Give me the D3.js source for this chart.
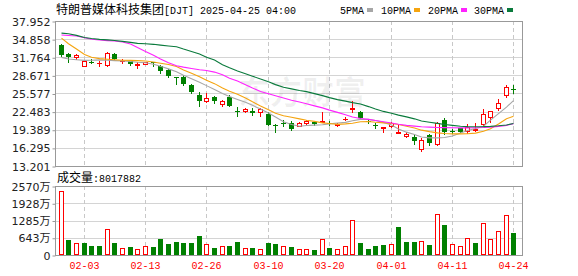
<!DOCTYPE html>
<html lang="zh">
<head>
<meta charset="utf-8"/>
<style>
  body { margin: 0; background: #fff; }
  svg text { font-family: "DejaVu Sans", "Noto Sans CJK SC", sans-serif; }
</style>
</head>
<body>
<svg id="container" width="578" height="276"></svg>

<script src="https://cdn.jsdelivr.net/npm/d3@7"></script>
<script>
// trading days shown (Jan 29 - Apr 24)
let dates = ["01-29","01-30","01-31","02-03","02-04","02-05","02-06","02-07","02-10","02-11",
             "02-12","02-13","02-14","02-18","02-19","02-20","02-21","02-24","02-25","02-26",
             "02-27","02-28","03-03","03-04","03-05","03-06","03-07","03-10","03-11","03-12",
             "03-13","03-14","03-17","03-18","03-19","03-20","03-21","03-24","03-25","03-26",
             "03-27","03-28","03-31","04-01","04-02","04-03","04-04","04-07","04-08","04-09",
             "04-10","04-11","04-14","04-15","04-16","04-17","04-21","04-22","04-23","04-24"]

let opens  = [33.90,32.27,31.82,30.30,30.90,30.73,30.47,32.38,31.12,31.15,
              30.50,30.64,30.92,30.24,29.51,28.40,28.33,27.04,25.30,24.23,
              25.01,23.72,25.01,22.66,22.66,22.60,22.43,22.03,20.12,20.60,
              20.46,20.07,20.52,20.69,20.75,20.60,20.18,21.20,23.00,22.43,
              20.90,20.18,19.62,19.95,18.77,18.32,18.10,16.14,18.43,16.97,
              20.97,19.18,19.61,19.10,19.40,20.42,21.63,23.10,25.40,26.35]
let highs  = [34.07,32.50,32.27,31.09,31.48,31.09,32.72,32.55,31.48,31.31,
              30.92,31.00,30.95,30.41,29.68,28.45,28.73,27.21,25.75,25.63,
              25.18,24.45,25.30,23.21,23.10,23.05,23.16,22.37,20.35,20.97,
              20.86,20.70,21.08,20.91,22.37,20.91,20.58,21.50,24.25,22.60,
              21.00,20.52,19.90,20.75,20.12,18.99,18.43,17.99,18.66,20.63,
              21.42,19.56,19.70,20.40,20.60,23.00,22.66,24.71,27.06,27.06]
let lows   = [31.93,30.97,31.43,30.30,30.75,30.30,30.30,31.26,30.75,30.41,
              29.96,30.60,30.30,29.12,28.39,27.26,27.06,25.72,23.49,24.20,
              23.88,23.49,23.38,21.81,22.50,21.92,21.81,20.12,19.00,20.00,
              19.39,20.00,20.35,20.18,20.75,20.24,19.95,21.00,22.45,21.25,
              20.60,19.62,18.99,19.78,18.77,18.10,16.93,15.80,16.82,16.85,
              18.72,18.75,18.95,18.90,19.15,20.00,20.76,22.75,24.95,25.69]
let closes = [32.21,31.82,32.10,31.09,30.80,30.80,32.55,31.43,31.15,30.58,
              30.65,30.92,30.75,29.35,28.56,28.33,27.21,25.86,24.23,24.79,
              24.23,24.34,23.49,22.60,22.99,22.32,22.99,20.23,20.07,20.55,
              19.50,20.52,20.91,20.35,20.86,20.55,20.41,21.25,23.12,21.47,
              20.70,20.12,19.84,20.46,18.99,18.66,17.42,17.65,17.08,20.52,
              19.00,19.12,19.04,19.90,19.50,22.14,22.66,23.91,26.66,26.28]

// moving averages as shown on the chart
let ma5  = [31.74,31.46,31.34,31.23,31.26,31.31,31.26,31.19,31.14,31.04,
            30.90,30.82,30.58,30.24,29.78,29.30,28.71,28.11,27.51,26.92,
            26.27,25.59,25.08,24.57,24.09,23.55,22.92,22.23,21.55,20.75,
            20.28,19.99,20.11,20.17,20.24,20.39,20.53,20.65,20.92,21.16,
            21.16,20.96,20.65,20.19,19.51,18.98,18.57,18.15,18.01,18.01,
            18.06,18.32,18.83,19.25,19.59,19.99,21.04,22.15,23.26,24.36]
let ma10 = [35.04,34.07,33.18,32.25,31.75,31.53,31.43,31.34,31.26,31.23,
            31.19,31.12,30.94,30.75,30.53,30.17,29.59,29.03,28.43,27.85,
            27.26,26.53,25.96,25.45,24.81,24.16,23.46,22.80,22.22,21.77,
            21.52,21.25,21.02,20.82,20.56,20.45,20.31,20.39,20.51,20.75,
            20.80,20.67,20.56,20.46,20.29,20.00,19.70,19.32,19.07,18.86,
            18.74,18.69,18.69,18.71,18.81,19.13,19.56,20.38,21.25,21.71]
let ma20 = [35.55,35.48,35.40,35.09,34.84,34.70,34.61,34.53,34.38,34.04,
            33.42,32.76,32.11,31.46,30.82,30.32,30.08,29.85,29.64,29.49,
            29.23,28.79,28.19,27.72,27.09,26.51,25.93,25.52,25.18,24.82,
            24.43,24.12,23.82,23.46,23.12,22.74,22.35,21.94,21.57,21.30,
            21.16,20.96,20.75,20.55,20.34,20.14,20.00,19.90,19.83,19.78,
            19.75,19.73,19.71,19.71,19.73,19.76,19.83,19.97,20.14,20.43]
let ma30 = [35.89,35.77,35.50,35.14,34.96,34.82,34.73,34.63,34.48,34.31,
            34.14,34.07,33.97,33.83,33.68,33.56,33.17,32.76,32.33,31.75,
            31.28,30.49,29.97,29.42,28.94,28.52,28.06,27.58,27.09,26.63,
            26.37,26.10,25.90,25.55,25.21,24.87,24.53,24.28,24.02,23.78,
            23.34,22.92,22.52,22.22,21.89,21.59,21.25,20.87,20.67,20.48,
            20.29,20.14,19.99,19.93,19.90,19.92,19.97,20.07,20.21,20.45]

// volume in 万 shares, and whether the day closed up (red) or down (green)
let volumes = [2384,559,436,436,335,335,957,436,248,286,
               211,335,286,596,398,484,436,436,708,398,
               261,335,335,484,261,261,211,447,398,335,
               298,211,211,186,596,261,211,335,1292,436,
               224,335,373,398,1043,484,484,509,373,1515,
               1118,398,335,621,447,1179,596,882,1478,801.7882]
let volUp = [1,0,1,0,0,0,1,0,1,0,
             1,1,0,0,0,0,0,0,0,1,
             0,1,0,0,1,0,1,0,0,1,
             0,1,1,0,1,0,1,1,1,0,
             0,0,0,1,0,0,0,1,0,1,
             0,1,1,1,0,1,1,1,1,0]

let priceTicks = [13.201,16.295,19.389,22.483,25.577,28.671,31.764,34.858,37.952]
let volTicks = [0,642.5,1285,1927.5,2570]
let volTickLabels = ["0","643万","1285万","1928万","2570万"]
let dateTicks = ["02-03","02-13","02-26","03-10","03-20","04-01","04-11","04-24"]

let maNames = ["5PMA","10PMA","20PMA","30PMA"]
let maColors = ["#a6a6a6","#f5a40f","#ff22ff","#0a7a3c"]

let RED = "#ff0000", GREEN = "#008000"
let left = 55, right = 522
let pTop = 21, pBottom = 166, vTop = 186, vBottom = 255

let svg = d3.select("svg")

let x = d3.scaleBand().domain(dates).range([56.7, 517.3])
let cx = d => Math.round(x(d) + x.bandwidth() / 2)
let y = d3.scaleLinear().domain([13.201, 37.952]).range([pBottom, pTop])
let yv = d3.scaleLinear().domain([0, 2570]).range([vBottom, vTop])

function mono(g, px, py, str, color, anchor) {
    return g.append("text")
        .attr("x", px).attr("y", py)
        .attr("fill", color)
        .attr("text-anchor", anchor || "start")
        .style("font-family", "'Liberation Mono', monospace")
        .attr("font-size", 11.5)
        .attr("textLength", str.length * 6)
        .attr("lengthAdjust", "spacingAndGlyphs")
        .text(str)
}
function cjk(g, px, py, str) {
    return g.append("text")
        .attr("x", px).attr("y", py)
        .attr("fill", "#000")
        .style("font-family", "'Noto Sans CJK SC', sans-serif")
        .attr("font-size", 12)
        .text(str)
}

// ---- grid ----
let grid = svg.append("g")
grid.selectAll(".hp").data(priceTicks).enter().append("line")
    .attr("x1", left).attr("x2", right)
    .attr("y1", d => Math.round(y(d)) + 0.5).attr("y2", d => Math.round(y(d)) + 0.5)
    .attr("stroke", "#d4d4d4")
grid.selectAll(".hv").data(volTicks).enter().append("line")
    .attr("x1", left).attr("x2", right)
    .attr("y1", d => Math.round(yv(d)) + 0.5).attr("y2", d => Math.round(yv(d)) + 0.5)
    .attr("stroke", "#d4d4d4")
dateTicks.forEach(function(d) {
    [[pTop, pBottom], [vTop, vBottom]].forEach(function(r) {
        grid.append("line")
            .attr("x1", cx(d) + 0.5).attr("x2", cx(d) + 0.5)
            .attr("y1", r[0]).attr("y2", r[1])
            .attr("stroke", "#c8c8c8")
            .attr("stroke-dasharray", "4,3")
    })
})

// watermark
svg.append("text")
    .attr("x", 238).attr("y", 104)
    .style("font-family", "'Noto Sans CJK SC', sans-serif")
    .attr("font-size", 32).attr("font-weight", "bold")
    .attr("fill", "#000").attr("fill-opacity", 0.06)
    .text("东方财富")

// ---- candles ----
let candles = svg.append("g")
dates.forEach(function(d, i) {
    let up = closes[i] >= opens[i]
    let col = up ? RED : GREEN
    let c = cx(d)
    candles.append("line")
        .attr("x1", c + 0.5).attr("x2", c + 0.5)
        .attr("y1", Math.round(y(highs[i]))).attr("y2", Math.round(y(lows[i])) + 1)
        .attr("stroke", col)
    let yt = Math.round(y(Math.max(opens[i], closes[i])))
    let yb = Math.round(y(Math.min(opens[i], closes[i])))
    if (up) {
        candles.append("rect")
            .attr("x", c - 1.5).attr("y", yt + 0.5)
            .attr("width", 4).attr("height", Math.max(yb - yt, 0.01))
            .attr("fill", "#fff").attr("stroke", col)
    } else {
        candles.append("rect")
            .attr("x", c - 2).attr("y", yt)
            .attr("width", 5).attr("height", Math.max(yb - yt, 1))
            .attr("fill", col)
    }
})

// ---- moving averages ----
let mas = [ma5, ma10, ma20, ma30]
mas.forEach(function(m, k) {
    svg.append("path")
        .datum(m)
        .attr("fill", "none")
        .attr("stroke", maColors[k])
        .attr("stroke-width", 1.1)
        .attr("d", d3.line().x((d, i) => cx(dates[i]) + 0.5).y(d => y(d)))
})

// ---- volume ----
let vol = svg.append("g")
dates.forEach(function(d, i) {
    let c = cx(d)
    let yt = Math.round(yv(volumes[i]))
    if (volUp[i]) {
        vol.append("rect")
            .attr("x", c - 1.5).attr("y", yt + 0.5)
            .attr("width", 4).attr("height", vBottom - yt - 1)
            .attr("fill", "#fff").attr("stroke", RED)
    } else {
        vol.append("rect")
            .attr("x", c - 2).attr("y", yt)
            .attr("width", 5).attr("height", vBottom - yt)
            .attr("fill", GREEN)
    }
})

// ---- frames ----
svg.append("rect").attr("x", left + 0.5).attr("y", pTop + 0.5)
    .attr("width", right - left).attr("height", pBottom - pTop)
    .attr("fill", "none").attr("stroke", "#999")
svg.append("rect").attr("x", left + 0.5).attr("y", vTop + 0.5)
    .attr("width", right - left).attr("height", vBottom - vTop)
    .attr("fill", "none").attr("stroke", "#999")

// ---- axes ----
let yAxis = svg.append("g").attr("transform", "translate(" + (left + 0.5) + ",0.5)")
    .call(d3.axisLeft(y).tickValues(priceTicks).tickFormat(d3.format(".3f")).tickSize(3).tickPadding(2))
let vAxis = svg.append("g").attr("transform", "translate(" + (left + 0.5) + ",0.5)")
    .call(d3.axisLeft(yv).tickValues(volTicks).tickFormat((d, i) => volTickLabels[i]).tickSize(3).tickPadding(2))
;[yAxis, vAxis].forEach(function(a) {
    a.select(".domain").remove()
    a.selectAll("line").attr("stroke", "#999")
    a.selectAll("text").attr("fill", "#222")
        .attr("font-size", 11)
        .style("font-family", "'DejaVu Sans', 'Noto Sans CJK SC', sans-serif")
})

// date labels
let xl = svg.append("g")
dateTicks.forEach(function(d) {
    mono(xl, cx(d) + 0.5, 269, d, RED, "middle")
})

// ---- title & legend ----
cjk(svg, 56, 14, "特朗普媒体科技集团")
mono(svg, 164, 14, "[DJT] 2025-04-25 04:00", "#000")

let legendX = [340, 381, 428, 474]
maNames.forEach(function(n, k) {
    mono(svg, legendX[k], 14, n, "#000")
    svg.append("rect")
        .attr("x", legendX[k] + n.length * 6 + 3).attr("y", 8)
        .attr("width", 6).attr("height", 4)
        .attr("fill", maColors[k])
})

cjk(svg, 57, 182, "成交量")
mono(svg, 93, 182, ":" + "8017882", "#000")
</script>
</body>
</html>
